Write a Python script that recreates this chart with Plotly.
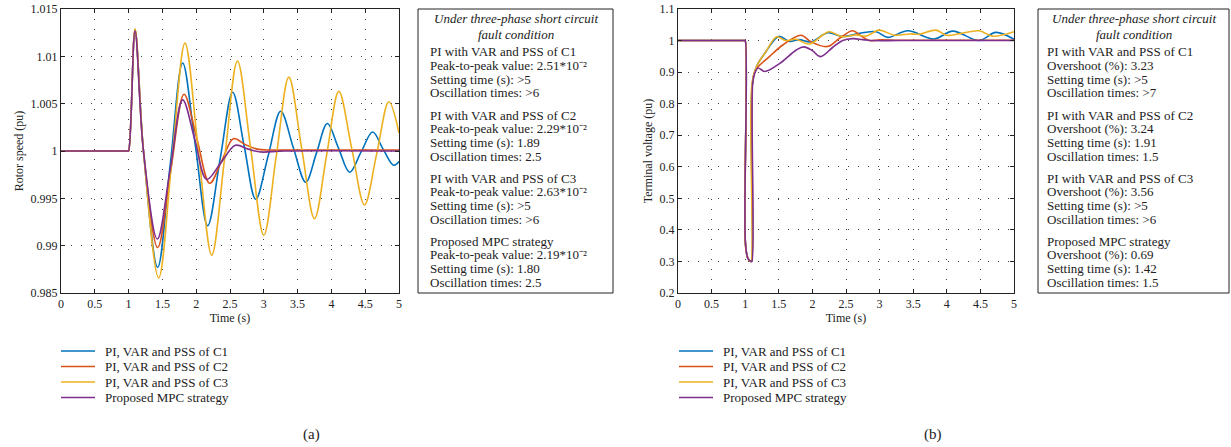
import plotly.graph_objects as go

W, H = 1231, 447
FONT = "Liberation Serif"

# ---------------- data: (a) rotor speed ----------------
t_a_c1 = [0, 0.99, 1.0, 1.095, 1.22, 1.43, 1.615, 1.80, 1.985, 2.17, 2.355, 2.54, 2.71, 2.88, 3.065,
          3.25, 3.435, 3.62, 3.78, 3.94, 4.105, 4.27, 4.44, 4.61, 4.765, 4.92, 5.0]
w_a_c1 = [1, 1, 1, 1.0128, 1.0, 0.9877, 0.9985, 1.0093, 1.0007, 0.9921, 0.9992, 1.0062, 1.0005, 0.9949,
          0.9995, 1.0042, 1.0004, 0.9967, 0.9998, 1.0029, 1.0003, 0.99775, 0.9999, 1.0020, 1.0002, 0.9985, 0.9989]

t_a_c2 = [0, 0.99, 1.0, 1.095, 1.22, 1.43, 1.625, 1.82, 2.01, 2.20, 2.375, 2.55, 2.72, 2.9, 3.1, 3.5, 5.0]
w_a_c2 = [1, 1, 1, 1.0128, 1.0, 0.9898, 0.998, 1.0060, 1.0013, 0.9966, 0.9989, 1.0013, 1.0007, 1.0002,
          1.0001, 1.0001, 1.0001]

t_a_c3 = [0, 0.99, 1.0, 1.095, 1.22, 1.445, 1.64, 1.834, 2.03, 2.23, 2.42, 2.61, 2.805, 3.0, 3.185, 3.37,
          3.56, 3.75, 3.93, 4.11, 4.30, 4.49, 4.67, 4.85, 5.0]
w_a_c3 = [1, 1, 1, 1.0129, 1.0, 0.9866, 0.999, 1.0114, 1.0002, 0.9890, 0.9992, 1.0095, 1.0003, 0.9911,
          0.9995, 1.0078, 1.0003, 0.99285, 0.9996, 1.0063, 1.0003, 0.9943, 0.9997, 1.0052, 1.0019]

t_a_mpc = [0, 0.99, 1.0, 1.095, 1.22, 1.425, 1.615, 1.80, 1.98, 2.155, 2.37, 2.58, 2.77, 2.95, 3.3, 5.0]
w_a_mpc = [1, 1, 1, 1.0127, 1.0, 0.9907, 0.998, 1.0054, 1.0012, 0.9970, 0.9988, 1.0006, 1.0002, 0.9999,
           1.0, 1.0]

# ---------------- data: (b) terminal voltage ----------------
t_b_c1 = [0, 0.99, 1.0, 1.003, 1.04, 1.085, 1.095, 1.105, 1.17, 1.30, 1.50, 1.66, 1.80, 1.98, 2.23, 2.45,
          2.75, 2.95, 3.12, 3.42, 3.81, 4.09, 4.48, 4.73, 5.0]
u_b_c1 = [1, 1, 1, 0.36, 0.31, 0.30, 0.30, 0.86, 0.918, 0.962, 1.013, 0.997, 1.003, 0.996, 1.025, 1.013,
          1.025, 1.028, 1.010, 1.031, 1.005, 1.030, 1.000, 1.026, 1.004]

t_b_c2 = [0, 0.99, 1.0, 1.003, 1.04, 1.085, 1.095, 1.105, 1.15, 1.36, 1.56, 1.83, 1.98, 2.22, 2.41, 2.60,
          2.72, 2.85, 3.0, 3.3, 5.0]
u_b_c2 = [1, 1, 1, 0.36, 0.31, 0.30, 0.30, 0.86, 0.905, 0.949, 0.986, 1.017, 0.996, 0.981, 1.008, 1.031,
          1.015, 1.0, 1.002, 1.001, 1.001]

t_b_c3 = [0, 0.99, 1.0, 1.003, 1.04, 1.08, 1.09, 1.10, 1.17, 1.30, 1.47, 1.60, 1.76, 1.95, 2.15, 2.25,
          2.45, 2.65, 2.80, 2.99, 3.22, 3.45, 3.59, 3.84, 3.99, 4.20, 4.48, 4.68, 5.0]
u_b_c3 = [1, 1, 1, 0.35, 0.31, 0.30, 0.30, 0.86, 0.918, 0.962, 1.012, 1.0, 1.004, 0.989, 1.017, 1.028,
          1.012, 1.018, 1.014, 1.033, 1.017, 1.021, 1.020, 1.033, 1.017, 1.022, 1.031, 1.014, 1.028]

t_b_mpc = [0, 0.99, 1.0, 1.003, 1.04, 1.09, 1.10, 1.11, 1.14, 1.19, 1.29, 1.51, 1.76, 1.87, 2.0, 2.12,
           2.3, 2.45, 2.6, 2.75, 2.9, 3.3, 5.0]
u_b_mpc = [1, 1, 1, 0.36, 0.31, 0.30, 0.30, 0.86, 0.895, 0.913, 0.902, 0.927, 0.970, 0.980, 0.968, 0.949,
           0.978, 1.0, 1.006, 1.003, 1.0, 1.0, 1.0]

series_names = ["PI, VAR and PSS of C1", "PI, VAR and PSS of C2", "PI, VAR and PSS of C3",
                "Proposed MPC strategy"]
series_colors = ["#0072BD", "#D95319", "#EDB120", "#7E2F8E"]

x_ticks = [0, 0.5, 1, 1.5, 2, 2.5, 3, 3.5, 4, 4.5, 5]
ya_ticks = [0.985, 0.99, 0.995, 1, 1.005, 1.01, 1.015]
yb_ticks = [0.2, 0.3, 0.4, 0.5, 0.6, 0.7, 0.8, 0.9, 1, 1.1]

box_a_title = ["Under three-phase short circuit", "fault condition"]
box_a_lines = [
    ["PI with VAR and PSS of C1", "Peak-to-peak value: 2.51*10⁻²", "Setting time (s): >5", "Oscillation times: >6"],
    ["PI with VAR and PSS of C2", "Peak-to-peak value: 2.29*10⁻²", "Setting time (s): 1.89", "Oscillation times: 2.5"],
    ["PI with VAR and PSS of C3", "Peak-to-peak value: 2.63*10⁻²", "Setting time (s): >5", "Oscillation times: >6"],
    ["Proposed MPC strategy", "Peak-to-peak value: 2.19*10⁻²", "Setting time (s): 1.80", "Oscillation times: 2.5"],
]
box_b_title = ["Under three-phase short circuit", "fault condition"]
box_b_lines = [
    ["PI with VAR and PSS of C1", "Overshoot (%): 3.23", "Setting time (s): >5", "Oscillation times: >7"],
    ["PI with VAR and PSS of C2", "Overshoot (%): 3.24", "Setting time (s): 1.91", "Oscillation times: 1.5"],
    ["PI with VAR and PSS of C3", "Overshoot (%): 3.56", "Setting time (s): >5", "Oscillation times: >6"],
    ["Proposed MPC strategy", "Overshoot (%): 0.69", "Setting time (s): 1.42", "Oscillation times: 1.5"],
]


def px(x):
    return x / W


def py(y):
    return 1 - y / H


fig = go.Figure()

a_data = [(t_a_c1, w_a_c1), (t_a_c2, w_a_c2), (t_a_c3, w_a_c3), (t_a_mpc, w_a_mpc)]
b_data = [(t_b_c1, u_b_c1), (t_b_c2, u_b_c2), (t_b_c3, u_b_c3), (t_b_mpc, u_b_mpc)]

for (t, v), name, col in zip(a_data, series_names, series_colors):
    fig.add_trace(go.Scatter(x=t, y=v, mode="lines", name=name, xaxis="x", yaxis="y",
                             line=dict(color=col, width=1.6, shape="spline", smoothing=1),
                             showlegend=False))
for (t, v), name, col in zip(b_data, series_names, series_colors):
    fig.add_trace(go.Scatter(x=t, y=v, mode="lines", name=name, xaxis="x2", yaxis="y2",
                             line=dict(color=col, width=1.6, shape="spline", smoothing=1),
                             showlegend=False))

ydom = [py(293), py(9)]
axis_common = dict(showline=True, linecolor="#222", linewidth=1, mirror="ticks", ticks="inside",
                   ticklen=4, tickcolor="#222", showgrid=True, gridcolor="#444", gridwidth=1,
                   griddash="1px,9px", zeroline=False, automargin=False,
                   tickfont=dict(family=FONT, size=12, color="#222"))

fig.update_layout(
    width=W, height=H, margin=dict(l=0, r=0, t=0, b=0),
    paper_bgcolor="white", plot_bgcolor="white",
    font=dict(family=FONT, size=12, color="#222"),
    xaxis=dict(domain=[px(61), px(399)], range=[0, 5], tickvals=x_ticks, anchor="y",
               title=dict(text="Time (s)", standoff=2, font=dict(family=FONT, size=12)), **axis_common),
    yaxis=dict(domain=ydom, range=[0.985, 1.015], tickvals=ya_ticks, anchor="x",
               title=dict(text="Rotor speed (pu)", standoff=4, font=dict(family=FONT, size=12)), **axis_common),
    xaxis2=dict(domain=[px(678), px(1014)], range=[0, 5], tickvals=x_ticks, anchor="y2",
                title=dict(text="Time (s)", standoff=2, font=dict(family=FONT, size=12)), **axis_common),
    yaxis2=dict(domain=ydom, range=[0.2, 1.1], tickvals=yb_ticks, anchor="x2",
                title=dict(text="Terminal voltage (pu)", standoff=4, font=dict(family=FONT, size=12)), **axis_common),
    showlegend=False,
)

shapes = []
annotations = []
TXT = dict(family=FONT, size=13, color="#222")


def add_box(x0, x1, title, groups, text_x):
    shapes.append(dict(type="rect", xref="paper", yref="paper", x0=px(x0), x1=px(x1), y0=py(293), y1=py(9),
                       line=dict(color="#222", width=1), fillcolor="rgba(0,0,0,0)"))
    cx = (x0 + x1) / 2
    for i, line in enumerate(title):
        annotations.append(dict(xref="paper", yref="paper", x=px(cx), y=py([19, 35][i]), text="<i>%s</i>" % line,
                                showarrow=False, xanchor="center", yanchor="middle", font=TXT))
    starts = [51.5, 115, 178, 241]
    for g, lines in zip(starts, groups):
        for j, line in enumerate(lines):
            annotations.append(dict(xref="paper", yref="paper", x=px(text_x), y=py(g + 13.8 * j), text=line,
                                    showarrow=False, xanchor="left", yanchor="middle", font=TXT))


add_box(418, 613, box_a_title, box_a_lines, 428)
add_box(1038, 1229, box_b_title, box_b_lines, 1045)


def add_legend(x_line0, x_text):
    rows = [351, 366.5, 382, 397.5]
    for yrow, name, col in zip(rows, series_names, series_colors):
        shapes.append(dict(type="line", xref="paper", yref="paper", x0=px(x_line0), x1=px(x_line0 + 34),
                           y0=py(yrow), y1=py(yrow), line=dict(color=col, width=1.6)))
        annotations.append(dict(xref="paper", yref="paper", x=px(x_text), y=py(yrow), text=name,
                                showarrow=False, xanchor="left", yanchor="middle", font=TXT))


add_legend(61, 103)
add_legend(679, 721)

annotations.append(dict(xref="paper", yref="paper", x=px(311), y=py(434), text="(a)", showarrow=False,
                        xanchor="center", yanchor="middle", font=dict(family=FONT, size=15, color="#222")))
annotations.append(dict(xref="paper", yref="paper", x=px(933), y=py(434), text="(b)", showarrow=False,
                        xanchor="center", yanchor="middle", font=dict(family=FONT, size=15, color="#222")))

fig.update_layout(shapes=shapes, annotations=annotations)
fig.write_html("out.html")
